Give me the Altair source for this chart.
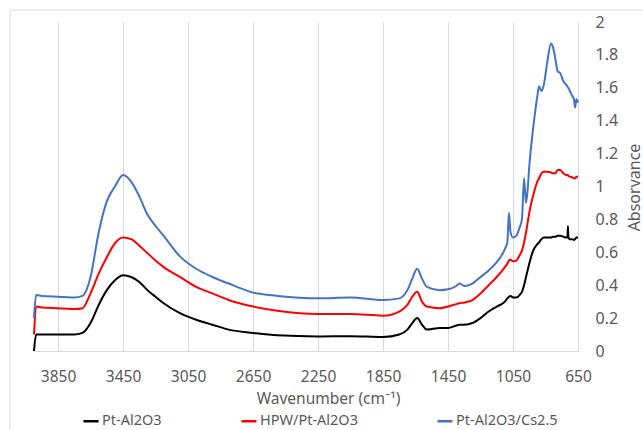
import altair as alt
import pandas as pd

# Wavenumber grid (cm-1), shared by all three spectra
wavenumber = [3998, 3985, 3950, 3850, 3750, 3700, 3650, 3600, 3550, 3500,
              3450, 3400, 3350, 3300, 3250, 3200, 3100, 3000, 2900, 2800,
              2650, 2500, 2250, 2050, 1850, 1750, 1700, 1670, 1640, 1610,
              1580, 1500, 1450, 1400, 1380, 1350, 1300, 1250, 1200, 1150,
              1100, 1085, 1075, 1065, 1050, 1030, 1010, 995, 982, 970,
              960, 950, 930, 900, 890, 875, 860, 840, 816, 805,
              790, 775, 760, 740, 725, 715, 712, 709, 700, 685,
              675, 668, 660, 650]

pt_al2o3 = [0.0, 0.10, 0.10, 0.10, 0.10, 0.11, 0.17, 0.28, 0.37, 0.43,
            0.46, 0.45, 0.42, 0.37, 0.33, 0.29, 0.23, 0.19, 0.16, 0.13,
            0.11, 0.095, 0.088, 0.09, 0.085, 0.10, 0.13, 0.17, 0.20, 0.16,
            0.13, 0.14, 0.14, 0.155, 0.16, 0.16, 0.17, 0.20, 0.24, 0.27,
            0.30, 0.32, 0.33, 0.335, 0.325, 0.325, 0.34, 0.36, 0.40, 0.45,
            0.49, 0.53, 0.60, 0.65, 0.66, 0.68, 0.69, 0.69, 0.69, 0.695,
            0.695, 0.70, 0.70, 0.695, 0.69, 0.69, 0.76, 0.69, 0.68, 0.68,
            0.675, 0.68, 0.69, 0.69]

hpw_pt_al2o3 = [0.10, 0.27, 0.265, 0.26, 0.255, 0.26, 0.35, 0.47, 0.57, 0.655,
                0.69, 0.68, 0.64, 0.595, 0.55, 0.51, 0.45, 0.39, 0.35, 0.31,
                0.27, 0.245, 0.225, 0.225, 0.215, 0.24, 0.28, 0.33, 0.36, 0.30,
                0.27, 0.26, 0.27, 0.285, 0.29, 0.295, 0.31, 0.35, 0.40, 0.45,
                0.51, 0.53, 0.55, 0.555, 0.545, 0.55, 0.58, 0.61, 0.66, 0.72,
                0.78, 0.84, 0.93, 1.03, 1.05, 1.08, 1.09, 1.09, 1.085, 1.08,
                1.08, 1.10, 1.10, 1.08, 1.07, 1.07, 1.07, 1.065, 1.06, 1.055,
                1.05, 1.05, 1.06, 1.06]

pt_al2o3_cs = [0.20, 0.34, 0.335, 0.33, 0.325, 0.335, 0.45, 0.72, 0.91, 1.00,
               1.07, 1.03, 0.94, 0.83, 0.76, 0.70, 0.575, 0.50, 0.45, 0.41,
               0.355, 0.335, 0.32, 0.325, 0.31, 0.32, 0.37, 0.44, 0.50, 0.44,
               0.39, 0.37, 0.375, 0.395, 0.41, 0.395, 0.41, 0.45, 0.49, 0.54,
               0.62, 0.66, 0.84, 0.72, 0.69, 0.70, 0.75, 0.80, 1.05, 0.90,
               0.98, 1.12, 1.32, 1.55, 1.61, 1.58, 1.62, 1.75, 1.87, 1.85,
               1.78, 1.70, 1.69, 1.64, 1.62, 1.61, 1.60, 1.60, 1.58, 1.55,
               1.53, 1.48, 1.53, 1.51]

series_names = ["Pt-Al2O3", "HPW/Pt-Al2O3", "Pt-Al2O3/Cs2.5"]
series_colors = ["#000000", "#FF0000", "#4472C4"]
x_ticks = [3850, 3450, 3050, 2650, 2250, 1850, 1450, 1050, 650]
y_ticks = [0, 0.2, 0.4, 0.6, 0.8, 1, 1.2, 1.4, 1.6, 1.8, 2]

rows = []
for name, vals in zip(series_names, [pt_al2o3, hpw_pt_al2o3, pt_al2o3_cs]):
    for w, v in zip(wavenumber, vals):
        rows.append({"Series": name, "Wavenumber": w, "Absorbance": v})
df = pd.DataFrame(rows)

GRAY_TEXT = "#595959"
GRID = "#D9D9D9"

lines = alt.Chart(df).mark_line(strokeWidth=2, interpolate="monotone").encode(
    x=alt.X("Wavenumber:Q",
            scale=alt.Scale(domain=[650, 3998], reverse=True, nice=False, zero=False),
            axis=alt.Axis(values=x_ticks, format="d", title="Wavenumber (cm⁻¹)", grid=True,
                          gridColor=GRID, domainColor=GRID, ticks=False,
                          labelFlush=False, labelPadding=18, labelFontSize=15.5,
                          labelColor=GRAY_TEXT, titleFontSize=15.5, titleColor=GRAY_TEXT,
                          titleFontWeight="normal", titleX=294, titleY=52,
                          titleAlign="center", titleBaseline="alphabetic")),
    y=alt.Y("Absorbance:Q",
            scale=alt.Scale(domain=[0, 2], nice=False),
            axis=alt.Axis(orient="right", values=y_ticks, format="~g", grid=False,
                          domain=False, ticks=False, labelPadding=17, labelFontSize=16,
                          labelColor=GRAY_TEXT, title="Absorvance", titleFontSize=16,
                          titleColor=GRAY_TEXT, titleFontWeight="normal", titleAngle=270,
                          titleX=56, titleY=165, titleAlign="center",
                          titleBaseline="middle")),
    color=alt.Color("Series:N",
                    scale=alt.Scale(domain=series_names, range=series_colors),
                    legend=alt.Legend(title=None, orient="none", direction="horizontal",
                                      legendX=48, legendY=390, symbolType="stroke",
                                      symbolSize=225, symbolStrokeWidth=2.5,
                                      labelOffset=2, columnPadding=74, padding=0,
                                      labelFontSize=14.5, labelColor=GRAY_TEXT)),
    order=alt.Order("Wavenumber:Q", sort="descending"),
)

frame = pd.DataFrame({"k": [0]})
border_top = alt.Chart(frame).mark_rule(color=GRID, strokeWidth=1).encode(
    x=alt.value(-24), x2=alt.value(620), y=alt.value(-12))
border_left = alt.Chart(frame).mark_rule(color=GRID, strokeWidth=1).encode(
    x=alt.value(-24), y=alt.value(-12), y2=alt.value(420))

chart = alt.layer(border_top, border_left, lines).properties(
    width=544, height=329,
    padding={"left": 34, "top": 22, "right": 65, "bottom": 79},
    autosize=alt.AutoSizeParams(type="none"),
).configure(font="Noto Sans").configure_view(stroke=None)

chart.save("out.html", embed_options={"renderer": "svg", "actions": False})
